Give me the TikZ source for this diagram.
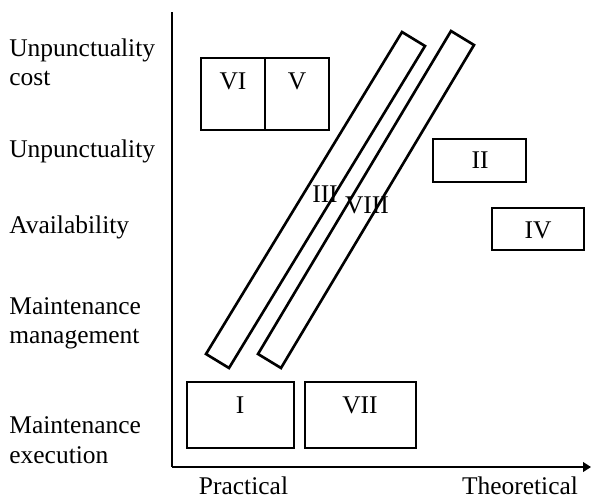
\documentclass[tikz,border=0pt]{standalone}
\usepackage{fontspec}
\setmainfont{Liberation Serif}
\usetikzlibrary{arrows.meta}
\begin{document}
\begin{tikzpicture}[x=0.02cm, y=-0.02cm, font=\fontsize{14.5}{16.5}\selectfont,
        box/.style={line width=1.6pt},
        strip/.style={line width=1.5pt, line join=miter},
        lab/.style={anchor=base, inner sep=0pt},
        side/.style={anchor=base west, inner sep=0pt}]
    \useasboundingbox (0, 0) rectangle (591, 498);
    \coordinate (o) at (172, 467);
    \coordinate (ytop) at (172, 12);
    \coordinate (xend) at (591, 467);
    \draw [line width=0.9pt] (ytop) -- (o);
    \draw [line width=0.9pt, -{Triangle[length=4.5pt, width=5.5pt]}] (o) -- (xend);
    % boxes
    \draw [box] (201, 58) rectangle (265, 130);
    \draw [box] (265, 58) rectangle (329, 130);
    \draw [box] (433, 139) rectangle (526, 182);
    \draw [box] (492, 208) rectangle (584, 250);
    \draw [box] (187, 382) rectangle (294, 448);
    \draw [box] (305, 382) rectangle (416, 448);
    \node [lab] (vi) at (233, 89) {VI};
    \node [lab] (v) at (297, 89) {V};
    \node [lab] (ii) at (480, 168) {II};
    \node [lab] (iv) at (538, 238) {IV};
    \node [lab] (i) at (240, 413) {I};
    \node [lab] (vii) at (360, 413) {VII};
    % strips
    \draw [strip] (402, 32) -- (425, 46) -- (229, 368) -- (206, 354) -- cycle;
    \draw [strip] (451, 31) -- (474, 45) -- (281, 368) -- (258, 354) -- cycle;
    \node [lab] (iii) at (325, 202) {III};
    \node [lab] (viii) at (367, 213) {VIII};
    % axis labels
    \node [side] (cost1) at (9, 56) {Unpunctuality};
    \node [side] (cost2) at (9, 85) {cost};
    \node [side] (unp) at (9, 157) {Unpunctuality};
    \node [side] (avail) at (9, 233) {Availability};
    \node [side] (mgmt1) at (9, 314) {Maintenance};
    \node [side] (mgmt2) at (9, 343) {management};
    \node [side] (exec1) at (9, 433) {Maintenance};
    \node [side] (exec2) at (9, 463) {execution};
    \node [lab] (prac) at (243.5, 494) {Practical};
    \node [lab] (theo) at (520, 494) {Theoretical};
\end{tikzpicture}
\end{document}
